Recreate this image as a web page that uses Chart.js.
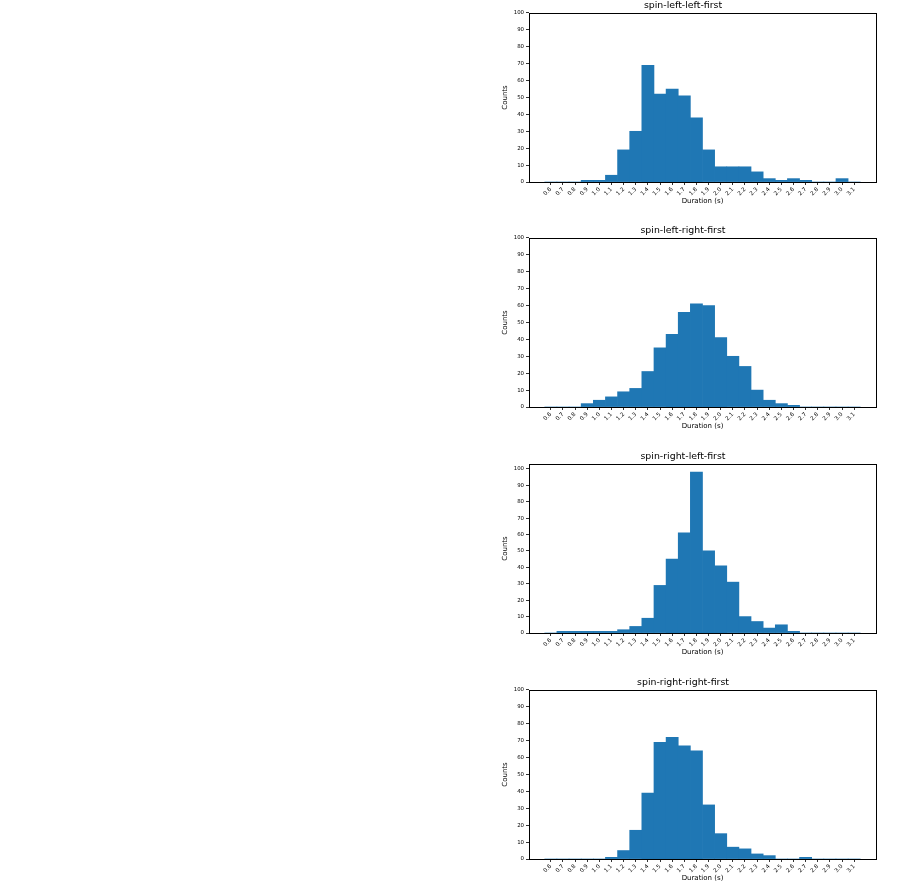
<!DOCTYPE html>
<html>
<head>
<meta charset="utf-8">
<script src="https://cdn.jsdelivr.net/npm/chart.js@4/dist/chart.umd.min.js"></script>
<style>
  html, body { margin: 0; padding: 0; background: #fff; overflow: hidden; }
  body { width: 901px; height: 884px; position: relative; }
  canvas { position: absolute; left: 490px; }
</style>
</head>
<body>
<canvas id="c1" width="400" height="210" style="top:0px"></canvas>
<canvas id="c2" width="400" height="210" style="top:225px"></canvas>
<canvas id="c3" width="400" height="210" style="top:451px"></canvas>
<canvas id="c4" width="400" height="210" style="top:677px"></canvas>
<script>
// bin centres / x tick labels (duration in seconds)
const tickLabels = ["0.6", "0.7", "0.8", "0.9", "1.0", "1.1", "1.2", "1.3", "1.4", "1.5", "1.6", "1.7", "1.8",
  "1.9", "2.0", "2.1", "2.2", "2.3", "2.4", "2.5", "2.6", "2.7", "2.8", "2.9", "3.0", "3.1"];
const yTicks = [0, 10, 20, 30, 40, 50, 60, 70, 80, 90, 100];

const titles = ["spin-left-left-first", "spin-left-right-first", "spin-right-left-first", "spin-right-right-first"];
const countsLeftLeft = [0, 0, 0, 1, 1, 4, 19, 30, 69, 52, 55, 51, 38, 19, 9, 9, 9, 6, 2, 1, 2, 1, 0, 0, 2, 0];
const countsLeftRight = [0, 0, 0, 2, 4, 6, 9, 11, 21, 35, 43, 56, 61, 60, 41, 30, 24, 10, 4, 2, 1, 0, 0, 0, 0, 0];
const countsRightLeft = [0, 1, 1, 1, 1, 1, 2, 4, 9, 29, 45, 61, 98, 50, 41, 31, 10, 7, 3, 5, 1, 0, 0, 0, 0, 0];
const countsRightRight = [0, 0, 0, 0, 0, 1, 5, 17, 39, 69, 72, 67, 64, 32, 15, 7, 6, 3, 2, 0, 0, 1, 0, 0, 0, 0];
const yMax = [100, 100, 103, 100];

const binCentres = tickLabels.map(Number);
const FONT = "'DejaVu Sans', sans-serif";

// matplotlib style frame around the axes
const boxPlugin = {
  id: "box",
  afterDatasetsDraw(chart) {
    const a = chart.chartArea;
    const ctx = chart.ctx;
    ctx.save();
    ctx.strokeStyle = "#000";
    ctx.lineWidth = 1;
    ctx.strokeRect(Math.round(a.left) + 0.5, Math.round(a.top) + 0.5,
      Math.round(a.right - a.left), Math.round(a.bottom - a.top));
    ctx.restore();
  }
};

function makeHist(id, title, counts, ymax) {
  new Chart(document.getElementById(id), {
    type: "bar",
    data: {
      datasets: [{
        data: binCentres.map((x, i) => ({ x: x, y: counts[i] })),
        backgroundColor: "#1f77b4",
        borderWidth: 0,
        barPercentage: 1,
        categoryPercentage: 1
      }]
    },
    plugins: [boxPlugin],
    options: {
      responsive: false,
      animation: false,
      devicePixelRatio: 1,
      layout: { padding: { left: 0, right: 14, top: 0, bottom: 0 } },
      plugins: {
        legend: { display: false },
        tooltip: { enabled: false },
        title: {
          display: true,
          text: title,
          color: "#000",
          font: { family: FONT, size: 9.4, weight: "normal" },
          padding: { top: 0, bottom: 1.7 }
        }
      },
      scales: {
        x: {
          type: "linear",
          min: 0.42,
          max: 3.28,
          offset: false,
          afterBuildTicks(scale) {
            scale.ticks = binCentres.map(v => ({ value: v }));
          },
          afterFit(scale) { scale.height = 28; },
          ticks: {
            autoSkip: false,
            minRotation: 45,
            maxRotation: 45,
            padding: 1,
            color: "#000",
            font: { family: FONT, size: 5.6 },
            callback: (v, i) => tickLabels[i]
          },
          grid: { display: true, drawOnChartArea: false, offset: false, drawTicks: true, tickLength: 3, color: "#000", lineWidth: 0.8 },
          border: { display: false },
          title: {
            display: true,
            text: "Duration (s)",
            color: "#000",
            font: { family: FONT, size: 7 },
            padding: { top: 0, bottom: 4.3 }
          }
        },
        y: {
          min: 0,
          max: ymax,
          afterBuildTicks(scale) {
            scale.ticks = yTicks.map(v => ({ value: v }));
          },
          afterFit(scale) { scale.width = 39; },
          ticks: {
            padding: 2,
            color: "#000",
            font: { family: FONT, size: 5.4 }
          },
          grid: { display: true, drawOnChartArea: false, drawTicks: true, tickLength: 3, color: "#000", lineWidth: 0.8 },
          border: { display: false },
          title: {
            display: true,
            text: "Counts",
            color: "#000",
            font: { family: FONT, size: 7 },
            padding: { top: 11, bottom: 0 }
          }
        }
      }
    }
  });
}

makeHist("c1", titles[0], countsLeftLeft, yMax[0]);
makeHist("c2", titles[1], countsLeftRight, yMax[1]);
makeHist("c3", titles[2], countsRightLeft, yMax[2]);
makeHist("c4", titles[3], countsRightRight, yMax[3]);
</script>
</body>
</html>
